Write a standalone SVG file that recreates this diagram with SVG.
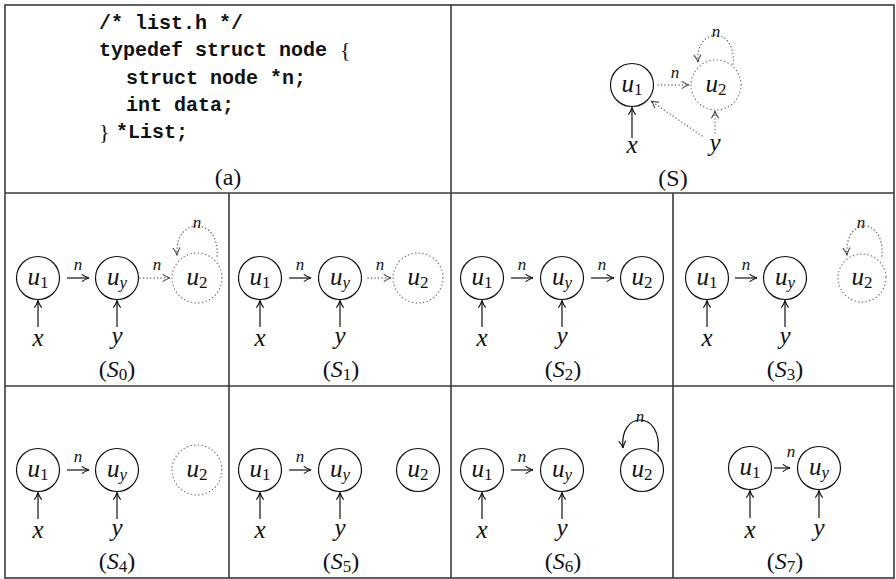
<svg xmlns="http://www.w3.org/2000/svg" width="896" height="579" viewBox="0 0 896 579">
<defs>
<style>
.frame{fill:none;stroke:#3a3a3a;stroke-width:1.6}
.c{fill:none;stroke:#111;stroke-width:1.2}
.cd{fill:none;stroke:#666;stroke-width:1.3;stroke-dasharray:0.1 3.6;stroke-linecap:round}
.e{fill:none;stroke:#111;stroke-width:1.2;marker-end:url(#ah)}
.ed{fill:none;stroke:#555;stroke-width:1.3;stroke-dasharray:0.1 3.4;stroke-linecap:round;marker-end:url(#ahd)}
.m{font-family:"Liberation Serif","DejaVu Serif",serif;font-size:25px;fill:#111;text-anchor:middle}
.i{font-style:italic}
.sub{font-size:17px}
.n{font-family:"Liberation Serif","DejaVu Serif",serif;font-style:italic;font-size:17px;fill:#111;text-anchor:middle}
.code{font-family:"Liberation Mono","DejaVu Sans Mono",monospace;font-size:20px;font-weight:bold;fill:#111}
.cap{font-family:"Liberation Serif","DejaVu Serif",serif;font-size:24px;fill:#111;text-anchor:middle}
.br{font-family:"Liberation Serif","DejaVu Serif",serif;font-size:22px;fill:#111}
</style>
<marker id="ah" viewBox="0 0 10 10" refX="9" refY="5" markerWidth="9" markerHeight="9" orient="auto" markerUnits="userSpaceOnUse">
<path d="M1,1 Q5,4 9,5 Q5,6 1,9" fill="none" stroke="#111" stroke-width="1.3"/>
</marker>
<marker id="ahd" viewBox="0 0 10 10" refX="9" refY="5" markerWidth="9" markerHeight="9" orient="auto" markerUnits="userSpaceOnUse">
<path d="M1,1 Q5,4 9,5 Q5,6 1,9" fill="none" stroke="#444" stroke-width="1.2"/>
</marker>
</defs>
<rect width="896" height="579" fill="#fff"/>

<g id="frame" class="frame">
<rect x="5" y="5" width="889" height="573"/>
<line x1="5" y1="193" x2="894" y2="193"/>
<line x1="5" y1="386" x2="894" y2="386"/>
<line x1="451" y1="5" x2="451" y2="578"/>
<line x1="229" y1="193" x2="229" y2="578"/>
<line x1="673" y1="193" x2="673" y2="578"/>
</g>

<!-- (a) code panel -->
<g id="panel-a">
<text class="code" x="99" y="29">/* list.h */</text>
<text class="code" x="99" y="56">typedef struct node</text>
<text class="br" x="340" y="57">{</text>
<text class="code" x="126" y="84">struct node *n;</text>
<text class="code" x="126" y="111">int data;</text>
<text class="br" x="99" y="139">}</text>
<text class="code" x="116" y="138">*List;</text>
<text class="cap" x="228" y="185">(a)</text>
</g>

<!-- (S) panel -->
<g id="panel-S">
<g id="S-u1"><circle class="c" cx="632" cy="85" r="21.5"/><text class="m" x="632" y="92"><tspan class="i">u</tspan><tspan class="sub" dy="3">1</tspan></text></g>
<g id="S-u2"><circle class="cd" cx="716" cy="85" r="25"/><text class="m" x="716" y="92"><tspan class="i">u</tspan><tspan class="sub" dy="3">2</tspan></text></g>
<g id="S-x"><text class="m i" x="632" y="153">x</text></g>
<g id="S-y"><text class="m i" x="715" y="151">y</text></g>
<text class="cap" x="673" y="186">(S)</text>
</g>

<!-- S0 -->
<g id="panel-S0">
<g id="S0-u1"><circle class="c" cx="38" cy="278" r="21.5"/><text class="m" x="38" y="285"><tspan class="i">u</tspan><tspan class="sub" dy="3">1</tspan></text></g>
<g id="S0-uy"><circle class="c" cx="117" cy="278" r="21.5"/><text class="m" x="117" y="285"><tspan class="i">u</tspan><tspan class="sub i" dy="3">y</tspan></text></g>
<g id="S0-u2"><circle class="cd" cx="197" cy="278" r="25"/><text class="m" x="197" y="285"><tspan class="i">u</tspan><tspan class="sub" dy="3">2</tspan></text></g>
<g id="S0-x"><text class="m i" x="38" y="346">x</text></g>
<g id="S0-y"><text class="m i" x="117" y="344">y</text></g>
<text class="cap" x="117" y="377">(<tspan class="i">S</tspan><tspan class="sub" dy="3">0</tspan><tspan dy="-3">)</tspan></text>
</g>

<!-- S1 -->
<g id="panel-S1">
<g id="S1-u1"><circle class="c" cx="260" cy="278" r="21.5"/><text class="m" x="260" y="285"><tspan class="i">u</tspan><tspan class="sub" dy="3">1</tspan></text></g>
<g id="S1-uy"><circle class="c" cx="340" cy="278" r="21.5"/><text class="m" x="340" y="285"><tspan class="i">u</tspan><tspan class="sub i" dy="3">y</tspan></text></g>
<g id="S1-u2"><circle class="cd" cx="418" cy="278" r="25"/><text class="m" x="418" y="285"><tspan class="i">u</tspan><tspan class="sub" dy="3">2</tspan></text></g>
<g id="S1-x"><text class="m i" x="260" y="346">x</text></g>
<g id="S1-y"><text class="m i" x="340" y="344">y</text></g>
<text class="cap" x="341" y="377">(<tspan class="i">S</tspan><tspan class="sub" dy="3">1</tspan><tspan dy="-3">)</tspan></text>
</g>

<!-- S2 -->
<g id="panel-S2">
<g id="S2-u1"><circle class="c" cx="482" cy="278" r="21.5"/><text class="m" x="482" y="285"><tspan class="i">u</tspan><tspan class="sub" dy="3">1</tspan></text></g>
<g id="S2-uy"><circle class="c" cx="562" cy="278" r="21.5"/><text class="m" x="562" y="285"><tspan class="i">u</tspan><tspan class="sub i" dy="3">y</tspan></text></g>
<g id="S2-u2"><circle class="c" cx="642" cy="278" r="21.5"/><text class="m" x="642" y="285"><tspan class="i">u</tspan><tspan class="sub" dy="3">2</tspan></text></g>
<g id="S2-x"><text class="m i" x="482" y="346">x</text></g>
<g id="S2-y"><text class="m i" x="562" y="344">y</text></g>
<text class="cap" x="563" y="377">(<tspan class="i">S</tspan><tspan class="sub" dy="3">2</tspan><tspan dy="-3">)</tspan></text>
</g>

<!-- S3 -->
<g id="panel-S3">
<g id="S3-u1"><circle class="c" cx="707" cy="278" r="21.5"/><text class="m" x="707" y="285"><tspan class="i">u</tspan><tspan class="sub" dy="3">1</tspan></text></g>
<g id="S3-uy"><circle class="c" cx="785" cy="278" r="21.5"/><text class="m" x="785" y="285"><tspan class="i">u</tspan><tspan class="sub i" dy="3">y</tspan></text></g>
<g id="S3-u2"><circle class="cd" cx="862" cy="278" r="24"/><text class="m" x="862" y="285"><tspan class="i">u</tspan><tspan class="sub" dy="3">2</tspan></text></g>
<g id="S3-x"><text class="m i" x="707" y="346">x</text></g>
<g id="S3-y"><text class="m i" x="785" y="344">y</text></g>
<text class="cap" x="785" y="377">(<tspan class="i">S</tspan><tspan class="sub" dy="3">3</tspan><tspan dy="-3">)</tspan></text>
</g>

<!-- S4 -->
<g id="panel-S4">
<g id="S4-u1"><circle class="c" cx="38" cy="470" r="21.5"/><text class="m" x="38" y="477"><tspan class="i">u</tspan><tspan class="sub" dy="3">1</tspan></text></g>
<g id="S4-uy"><circle class="c" cx="117" cy="470" r="21.5"/><text class="m" x="117" y="477"><tspan class="i">u</tspan><tspan class="sub i" dy="3">y</tspan></text></g>
<g id="S4-u2"><circle class="cd" cx="197" cy="470" r="25"/><text class="m" x="197" y="477"><tspan class="i">u</tspan><tspan class="sub" dy="3">2</tspan></text></g>
<g id="S4-x"><text class="m i" x="38" y="538">x</text></g>
<g id="S4-y"><text class="m i" x="117" y="536">y</text></g>
<text class="cap" x="117" y="569">(<tspan class="i">S</tspan><tspan class="sub" dy="3">4</tspan><tspan dy="-3">)</tspan></text>
</g>

<!-- S5 -->
<g id="panel-S5">
<g id="S5-u1"><circle class="c" cx="260" cy="470" r="21.5"/><text class="m" x="260" y="477"><tspan class="i">u</tspan><tspan class="sub" dy="3">1</tspan></text></g>
<g id="S5-uy"><circle class="c" cx="340" cy="470" r="21.5"/><text class="m" x="340" y="477"><tspan class="i">u</tspan><tspan class="sub i" dy="3">y</tspan></text></g>
<g id="S5-u2"><circle class="c" cx="418" cy="470" r="21.5"/><text class="m" x="418" y="477"><tspan class="i">u</tspan><tspan class="sub" dy="3">2</tspan></text></g>
<g id="S5-x"><text class="m i" x="260" y="538">x</text></g>
<g id="S5-y"><text class="m i" x="340" y="536">y</text></g>
<text class="cap" x="341" y="569">(<tspan class="i">S</tspan><tspan class="sub" dy="3">5</tspan><tspan dy="-3">)</tspan></text>
</g>

<!-- S6 -->
<g id="panel-S6">
<g id="S6-u1"><circle class="c" cx="482" cy="470" r="21.5"/><text class="m" x="482" y="477"><tspan class="i">u</tspan><tspan class="sub" dy="3">1</tspan></text></g>
<g id="S6-uy"><circle class="c" cx="562" cy="470" r="21.5"/><text class="m" x="562" y="477"><tspan class="i">u</tspan><tspan class="sub i" dy="3">y</tspan></text></g>
<g id="S6-u2"><circle class="c" cx="642" cy="470" r="21.5"/><text class="m" x="642" y="477"><tspan class="i">u</tspan><tspan class="sub" dy="3">2</tspan></text></g>
<g id="S6-x"><text class="m i" x="482" y="538">x</text></g>
<g id="S6-y"><text class="m i" x="562" y="536">y</text></g>
<text class="cap" x="563" y="569">(<tspan class="i">S</tspan><tspan class="sub" dy="3">6</tspan><tspan dy="-3">)</tspan></text>
</g>

<!-- S7 -->
<g id="panel-S7">
<g id="S7-u1"><circle class="c" cx="750" cy="468" r="21.5"/><text class="m" x="750" y="475"><tspan class="i">u</tspan><tspan class="sub" dy="3">1</tspan></text></g>
<g id="S7-uy"><circle class="c" cx="819" cy="468" r="21.5"/><text class="m" x="819" y="475"><tspan class="i">u</tspan><tspan class="sub i" dy="3">y</tspan></text></g>
<g id="S7-x"><text class="m i" x="750" y="538">x</text></g>
<g id="S7-y"><text class="m i" x="819" y="536">y</text></g>
<text class="cap" x="785" y="569">(<tspan class="i">S</tspan><tspan class="sub" dy="3">7</tspan><tspan dy="-3">)</tspan></text>
</g>

<g id="connectors">
<!-- S -->
<line class="e" x1="632" y1="138" x2="632" y2="107.5"/>
<line class="ed" x1="658" y1="85" x2="689" y2="85"/><text class="n" x="675" y="78">n</text>
<line class="ed" x1="715" y1="133" x2="715" y2="111"/>
<line class="ed" x1="702" y1="136" x2="651" y2="101"/>
<path class="ed" d="M733,64 C737,26 695,26 698,62"/><text class="n" x="716" y="37">n</text>
<!-- S0 -->
<line class="e" x1="67" y1="278" x2="89" y2="278"/><text class="n" x="78" y="270">n</text>
<line class="ed" x1="140" y1="278" x2="170" y2="278"/><text class="n" x="157" y="270">n</text>
<path class="ed" d="M217,256 C220,216 174,216 177,255"/><text class="n" x="197" y="228">n</text>
<line class="e" x1="38" y1="327" x2="38" y2="300.5"/>
<line class="e" x1="117" y1="327" x2="117" y2="300.5"/>
<!-- S1 -->
<line class="e" x1="289" y1="278" x2="311" y2="278"/><text class="n" x="300" y="270">n</text>
<line class="ed" x1="368" y1="278" x2="391" y2="278"/><text class="n" x="380" y="270">n</text>
<line class="e" x1="260" y1="327" x2="260" y2="300.5"/>
<line class="e" x1="340" y1="327" x2="340" y2="300.5"/>
<!-- S2 -->
<line class="e" x1="511" y1="278" x2="533" y2="278"/><text class="n" x="522" y="270">n</text>
<line class="e" x1="591" y1="278" x2="614" y2="278"/><text class="n" x="602" y="270">n</text>
<line class="e" x1="482" y1="327" x2="482" y2="300.5"/>
<line class="e" x1="562" y1="327" x2="562" y2="300.5"/>
<!-- S3 -->
<line class="e" x1="735" y1="278" x2="757" y2="278"/><text class="n" x="746" y="270">n</text>
<path class="ed" d="M882,256 C885,216 844,216 847,255"/><text class="n" x="861" y="228">n</text>
<line class="e" x1="707" y1="327" x2="707" y2="300.5"/>
<line class="e" x1="785" y1="327" x2="785" y2="300.5"/>
<!-- S4 -->
<line class="e" x1="67" y1="470" x2="89" y2="470"/><text class="n" x="78" y="462">n</text>
<line class="e" x1="38" y1="519" x2="38" y2="492.5"/>
<line class="e" x1="117" y1="519" x2="117" y2="492.5"/>
<!-- S5 -->
<line class="e" x1="289" y1="470" x2="311" y2="470"/><text class="n" x="300" y="462">n</text>
<line class="e" x1="260" y1="519" x2="260" y2="492.5"/>
<line class="e" x1="340" y1="519" x2="340" y2="492.5"/>
<!-- S6 -->
<line class="e" x1="511" y1="470" x2="533" y2="470"/><text class="n" x="522" y="462">n</text>
<path class="e" d="M658,452 C663,410 619,410 623,448"/><text class="n" x="640" y="422">n</text>
<line class="e" x1="482" y1="519" x2="482" y2="492.5"/>
<line class="e" x1="562" y1="519" x2="562" y2="492.5"/>
<!-- S7 -->
<line class="e" x1="774" y1="468" x2="790" y2="468"/><text class="n" x="791" y="457">n</text>
<line class="e" x1="750" y1="518" x2="750" y2="490.5"/>
<line class="e" x1="819" y1="518" x2="819" y2="490.5"/>
</g>
</svg>
